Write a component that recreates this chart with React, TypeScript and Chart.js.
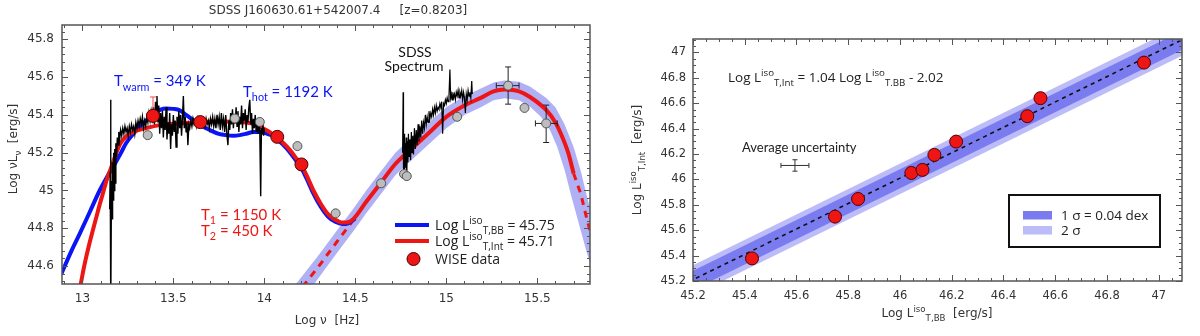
import React, { useEffect, useRef } from 'react';
import { Chart, registerables } from 'chart.js';
Chart.register(...registerables);

// ---------------- Left panel data ----------------
const leftXTicks = [13, 13.5, 14, 14.5, 15, 15.5];
const leftYTicks = [44.6, 44.8, 45, 45.2, 45.4, 45.6, 45.8];

// two-blackbody model (blue)
const blueX = [12.885, 12.94, 12.985, 13.04, 13.095, 13.14, 13.178, 13.21, 13.24, 13.28, 13.315, 13.35, 13.39, 13.43, 13.46, 13.5, 13.535, 13.57, 13.61, 13.65, 13.7, 13.75, 13.79, 13.83, 13.865, 13.9, 13.94, 13.975, 14.01, 14.04, 14.07, 14.1, 14.14, 14.18, 14.2, 14.23, 14.27, 14.31, 14.35, 14.39, 14.43, 14.46, 14.5];
const blueY = [44.56, 44.68, 44.77, 44.885, 45.0, 45.08, 45.14, 45.195, 45.25, 45.3, 45.337, 45.37, 45.405, 45.428, 45.434, 45.432, 45.425, 45.4, 45.372, 45.345, 45.32, 45.3, 45.293, 45.29, 45.293, 45.3, 45.31, 45.31, 45.302, 45.292, 45.272, 45.245, 45.203, 45.15, 45.124, 45.068, 44.984, 44.914, 44.862, 44.834, 44.822, 44.826, 44.852];

// interpolated model (red, solid)
const redX = [12.99, 13.01, 13.03, 13.055, 13.077, 13.095, 13.113, 13.135, 13.16, 13.187, 13.21, 13.245, 13.28, 13.35, 13.425, 13.535, 13.645, 13.755, 13.865, 13.93, 13.975, 14.02, 14.05, 14.07, 14.1, 14.14, 14.18, 14.2, 14.23, 14.27, 14.31, 14.35, 14.39, 14.43, 14.46, 14.49, 14.56, 14.64, 14.72, 14.82, 14.91, 15.0, 15.1, 15.19, 15.26, 15.32, 15.4, 15.46, 15.55, 15.6, 15.63, 15.67, 15.7];
const redY = [44.5, 44.6, 44.685, 44.78, 44.86, 44.925, 44.985, 45.06, 45.126, 45.2, 45.25, 45.29, 45.31, 45.33, 45.346, 45.355, 45.363, 45.365, 45.363, 45.355, 45.337, 45.315, 45.295, 45.28, 45.255, 45.215, 45.165, 45.14, 45.085, 45.0, 44.93, 44.875, 44.845, 44.83, 44.832, 44.85, 44.94, 45.04, 45.14, 45.23, 45.31, 45.39, 45.45, 45.49, 45.525, 45.535, 45.525, 45.495, 45.425, 45.36, 45.3, 45.2, 45.09];

// accretion-disk model, dashed parts
const diskLowX = [14.21, 14.3, 14.4, 14.49];
const diskLowY = [44.49, 44.6, 44.73, 44.845];
const diskHighX = [15.7, 15.74, 15.77, 15.8];
const diskHighY = [45.09, 44.98, 44.86, 44.75];

// uncertainty band of the disk model
const bandOuterX = [14.17, 14.3, 14.4, 14.49, 14.56, 14.64, 14.72, 14.82, 14.91, 15.0, 15.1, 15.19, 15.26, 15.32, 15.4, 15.46, 15.55, 15.6, 15.65, 15.7, 15.74, 15.77, 15.82];
const bandOuterY = [44.5, 44.66, 44.79, 44.905, 45.0, 45.1, 45.2, 45.29, 45.365, 45.44, 45.5, 45.54, 45.572, 45.582, 45.575, 45.55, 45.49, 45.44, 45.35, 45.23, 45.1, 44.98, 44.8];
const bandInnerX = [14.27, 14.4, 14.49, 14.56, 14.64, 14.72, 14.82, 14.91, 15.0, 15.1, 15.19, 15.26, 15.32, 15.4, 15.46, 15.52, 15.57, 15.61, 15.65, 15.69, 15.73, 15.77, 15.82];
const bandInnerY = [44.5, 44.67, 44.785, 44.88, 44.98, 45.08, 45.17, 45.25, 45.33, 45.4, 45.44, 45.478, 45.488, 45.478, 45.445, 45.39, 45.32, 45.23, 45.11, 44.96, 44.82, 44.68, 44.52];

// mid-IR spectrum (x, y)
const irSpectrum: [number, number][] = [
  [13.15, 44.9], [13.153, 45.1], [13.155, 45.48], [13.157, 44.4], [13.16, 45.05], [13.163, 44.85], [13.166, 45.15], [13.169, 44.95], [13.172, 45.2], [13.175, 45.0], [13.178, 45.22], [13.181, 45.04], [13.184, 45.25], [13.188, 45.18], [13.192, 45.28], [13.196, 45.24], [13.2, 45.31], [13.205, 45.27], [13.21, 45.32], [13.216, 45.29], [13.222, 45.33], [13.228, 45.3], [13.234, 45.34], [13.24, 45.31], [13.246, 45.33], [13.252, 45.29], [13.258, 45.34], [13.264, 45.31], [13.27, 45.35], [13.276, 45.32], [13.282, 45.34], [13.288, 45.3], [13.294, 45.36], [13.3, 45.33], [13.306, 45.37], [13.312, 45.34], [13.318, 45.38], [13.324, 45.35], [13.33, 45.39], [13.336, 45.33], [13.342, 45.37], [13.348, 45.34], [13.354, 45.39], [13.36, 45.36], [13.366, 45.41], [13.372, 45.37], [13.378, 45.42], [13.384, 45.38], [13.39, 45.44], [13.396, 45.35], [13.402, 45.47], [13.406, 45.39], [13.41, 45.5], [13.415, 45.36], [13.42, 45.45], [13.425, 45.3], [13.43, 45.41], [13.435, 45.33], [13.44, 45.42], [13.445, 45.28], [13.45, 45.39], [13.455, 45.32], [13.46, 45.44], [13.465, 45.27], [13.47, 45.36], [13.475, 45.3], [13.48, 45.41], [13.485, 45.22], [13.49, 45.35], [13.495, 45.29], [13.5, 45.4], [13.505, 45.31], [13.51, 45.37], [13.515, 45.23], [13.52, 45.39], [13.525, 45.3], [13.53, 45.42], [13.535, 45.33], [13.54, 45.4], [13.545, 45.29], [13.55, 45.38], [13.555, 45.5], [13.56, 45.33], [13.565, 45.39], [13.57, 45.31], [13.575, 45.36], [13.58, 45.24], [13.585, 45.35], [13.59, 45.33], [13.596, 45.37], [13.602, 45.34], [13.608, 45.38], [13.614, 45.35], [13.62, 45.37], [13.626, 45.34], [13.632, 45.38], [13.638, 45.35], [13.644, 45.37], [13.65, 45.36], [13.656, 45.38], [13.662, 45.35], [13.668, 45.37], [13.674, 45.34], [13.68, 45.38], [13.686, 45.35], [13.692, 45.37], [13.698, 45.33], [13.704, 45.38], [13.71, 45.35], [13.716, 45.39], [13.722, 45.34], [13.728, 45.38], [13.734, 45.33], [13.74, 45.4], [13.746, 45.35], [13.752, 45.39], [13.758, 45.32], [13.764, 45.41], [13.77, 45.34], [13.776, 45.38], [13.782, 45.31], [13.788, 45.4], [13.794, 45.3], [13.8, 45.24], [13.805, 45.37], [13.81, 45.32], [13.815, 45.41], [13.82, 45.35], [13.825, 45.43], [13.83, 45.33], [13.835, 45.4], [13.84, 45.36], [13.845, 45.44], [13.85, 45.34], [13.855, 45.42], [13.86, 45.31], [13.865, 45.39], [13.87, 45.35], [13.875, 45.45], [13.88, 45.33], [13.885, 45.41], [13.89, 45.37], [13.895, 45.43], [13.9, 45.32], [13.905, 45.4], [13.91, 45.36], [13.915, 45.44], [13.92, 45.48], [13.925, 45.35], [13.93, 45.41], [13.935, 45.3], [13.94, 45.38], [13.945, 45.33], [13.95, 45.4], [13.955, 45.31], [13.96, 45.37], [13.965, 45.3], [13.97, 45.36], [13.975, 45.32], [13.98, 44.97], [13.984, 45.33], [13.988, 45.3], [13.992, 45.36], [13.996, 45.29], [14.0, 45.33]
];

// SDSS optical spectrum (x, y)
const sdssSpectrum: [number, number][] = [
  [14.76, 45.2], [14.763, 45.52], [14.765, 45.1], [14.768, 45.3], [14.771, 45.08], [14.774, 45.25], [14.777, 45.12], [14.78, 45.28], [14.783, 45.07], [14.786, 45.26], [14.789, 45.15], [14.792, 45.3], [14.796, 45.18], [14.8, 45.27], [14.804, 45.16], [14.808, 45.31], [14.812, 45.2], [14.816, 45.29], [14.82, 45.19], [14.825, 45.33], [14.83, 45.22], [14.835, 45.32], [14.84, 45.24], [14.845, 45.35], [14.85, 45.26], [14.855, 45.34], [14.86, 45.28], [14.865, 45.37], [14.87, 45.3], [14.875, 45.36], [14.88, 45.33], [14.885, 45.4], [14.89, 45.35], [14.895, 45.39], [14.9, 45.36], [14.905, 45.42], [14.91, 45.38], [14.915, 45.41], [14.92, 45.39], [14.925, 45.43], [14.93, 45.4], [14.935, 45.44], [14.94, 45.41], [14.945, 45.45], [14.95, 45.42], [14.955, 45.44], [14.96, 45.43], [14.965, 45.46], [14.97, 45.44], [14.975, 45.47], [14.98, 45.3], [14.985, 45.46], [14.99, 45.45], [14.995, 45.48], [15.0, 45.46], [15.005, 45.49], [15.01, 45.47], [15.015, 45.5], [15.02, 45.64], [15.024, 45.49], [15.028, 45.51], [15.032, 45.48], [15.036, 45.52], [15.04, 45.49], [15.045, 45.51], [15.05, 45.48], [15.055, 45.52], [15.06, 45.5], [15.065, 45.53], [15.07, 45.49], [15.075, 45.52], [15.08, 45.5], [15.085, 45.53], [15.09, 45.48], [15.095, 45.52], [15.1, 45.49], [15.105, 45.41], [15.11, 45.51], [15.115, 45.48], [15.12, 45.53], [15.125, 45.5], [15.13, 45.52], [15.135, 45.49], [15.14, 45.58], [15.143, 45.51]
];

// photometry (grey) and WISE (red)
const grayX = [13.359, 13.838, 13.975, 14.182, 14.392, 14.642, 14.768, 14.783, 15.06, 15.34, 15.43, 15.549];
const grayY = [45.293, 45.381, 45.363, 45.235, 44.879, 45.038, 45.087, 45.076, 45.39, 45.555, 45.437, 45.355];
const errPtX = [15.34, 15.549];
const errPtY = [45.555, 45.355];
const errXLo = [15.275, 15.49];
const errXHi = [15.4, 15.61];
const errYLo = [45.457, 45.254];
const errYHi = [45.654, 45.452];
const wiseX = [13.388, 13.648, 14.071, 14.204];
const wiseY = [45.395, 45.362, 45.284, 45.138];
const wiseErrHi = [45.495, null, null, null];

// ---------------- Right panel data ----------------
const rightTicks = [45.2, 45.4, 45.6, 45.8, 46, 46.2, 46.4, 46.6, 46.8, 47];
const ptBB = [45.428, 45.749, 45.838, 46.044, 46.087, 46.133, 46.217, 46.492, 46.543, 46.943];
const ptInt = [45.378, 45.707, 45.846, 46.051, 46.075, 46.193, 46.298, 46.498, 46.64, 46.92];
const fitX = [45.1, 47.2];
const fitY = [45.11, 47.21];
const sig2Lo = [44.985, 47.085];
const sig2Hi = [45.225, 47.325];
const sig1Lo = [45.03, 47.13];
const sig1Hi = [45.18, 47.28];
const avgUncX = 45.594;
const avgUncY = 46.11;
const avgUncDX = 0.054;
const avgUncDY = 0.045;

// ---------------- helpers ----------------
const RED = '#ee1515';
const BLUE = '#0a14f5';
const TXT = '#333333';
type Part = [string, number];

const pts = (xs: number[], ys: number[]) => xs.map((x, i) => ({ x, y: ys[i] }));

function fontFor(size: number, mode: number, family: string) {
  const s = mode === 0 ? size : size * 0.72;
  return `${s}px "${family}"`;
}
function drawRich(ctx: CanvasRenderingContext2D, parts: Part[], x: number, y: number, size: number, family: string, color: string, align = 'left', angle = 0) {
  ctx.save();
  ctx.translate(x, y);
  if (angle) ctx.rotate(angle);
  let w = 0;
  for (const [t, m] of parts) { ctx.font = fontFor(size, m, family); w += ctx.measureText(t).width; }
  let cx = align === 'center' ? -w / 2 : align === 'right' ? -w : 0;
  ctx.fillStyle = color;
  ctx.textAlign = 'left';
  ctx.textBaseline = 'alphabetic';
  for (const [t, m] of parts) {
    ctx.font = fontFor(size, m, family);
    const dy = m === 1 ? -size * 0.42 : m === -1 ? size * 0.3 : 0;
    ctx.fillText(t, cx, dy);
    cx += ctx.measureText(t).width;
  }
  ctx.restore();
}

function frameTicks(id: string, xMinor: number, xEvery: number, yMinor: number, yEvery: number) {
  return {
    id,
    afterDatasetsDraw(chart: any) {
      const { ctx, chartArea: a, scales } = chart;
      const x = scales.x, y = scales.y;
      ctx.save();
      ctx.strokeStyle = '#555';
      ctx.lineWidth = 1;
      ctx.beginPath();
      const i0 = Math.ceil(x.min / xMinor - 1e-6), i1 = Math.floor(x.max / xMinor + 1e-6);
      for (let i = i0; i <= i1; i++) {
        const px = Math.round(x.getPixelForValue(i * xMinor)) + 0.5;
        const L = i % xEvery === 0 ? 6 : 3;
        ctx.moveTo(px, a.bottom); ctx.lineTo(px, a.bottom - L);
        ctx.moveTo(px, a.top); ctx.lineTo(px, a.top + L);
      }
      const j0 = Math.ceil(y.min / yMinor - 1e-6), j1 = Math.floor(y.max / yMinor + 1e-6);
      for (let j = j0; j <= j1; j++) {
        const py = Math.round(y.getPixelForValue(j * yMinor)) + 0.5;
        const L = j % yEvery === 0 ? 6 : 3;
        ctx.moveTo(a.left, py); ctx.lineTo(a.left + L, py);
        ctx.moveTo(a.right, py); ctx.lineTo(a.right - L, py);
      }
      ctx.stroke();
      ctx.lineWidth = 1.5;
      ctx.strokeStyle = '#555';
      ctx.strokeRect(a.left, a.top, a.right - a.left, a.bottom - a.top);
      ctx.restore();
    },
  };
}

const tickFont = (size: number) => ({ family: 'DejaVu Sans', size });

function leftConfig(): any {
  const bandPlugin = {
    id: 'band',
    beforeDatasetsDraw(chart: any) {
      const { ctx, chartArea: a, scales: { x, y } } = chart;
      ctx.save();
      ctx.beginPath();
      ctx.rect(a.left, a.top, a.right - a.left, a.bottom - a.top);
      ctx.clip();
      ctx.beginPath();
      bandOuterX.forEach((vx, i) => {
        const px = x.getPixelForValue(vx), py = y.getPixelForValue(bandOuterY[i]);
        if (i === 0) ctx.moveTo(px, py); else ctx.lineTo(px, py);
      });
      for (let i = bandInnerX.length - 1; i >= 0; i--) {
        ctx.lineTo(x.getPixelForValue(bandInnerX[i]), y.getPixelForValue(bandInnerY[i]));
      }
      ctx.closePath();
      ctx.fillStyle = '#b0b0f4';
      ctx.fill();
      ctx.restore();
    },
  };
  const errPlugin = {
    id: 'err',
    beforeDatasetDraw(chart: any, args: any) {
      const ds = chart.data.datasets[args.index];
      const { ctx, scales: { x, y } } = chart;
      if (ds.label === 'gray') {
        ctx.save();
        ctx.strokeStyle = '#222';
        ctx.lineWidth = 1;
        ctx.beginPath();
        errPtX.forEach((vx, i) => {
          const px = x.getPixelForValue(vx), py = y.getPixelForValue(errPtY[i]);
          const x0 = x.getPixelForValue(errXLo[i]), x1 = x.getPixelForValue(errXHi[i]);
          const y0 = y.getPixelForValue(errYLo[i]), y1 = y.getPixelForValue(errYHi[i]);
          ctx.moveTo(x0, py); ctx.lineTo(x1, py);
          ctx.moveTo(x0, py - 3); ctx.lineTo(x0, py + 3);
          ctx.moveTo(x1, py - 3); ctx.lineTo(x1, py + 3);
          ctx.moveTo(px, y0); ctx.lineTo(px, y1);
          ctx.moveTo(px - 3, y0); ctx.lineTo(px + 3, y0);
          ctx.moveTo(px - 3, y1); ctx.lineTo(px + 3, y1);
        });
        ctx.stroke();
        ctx.restore();
      }
      if (ds.label === 'wise') {
        ctx.save();
        ctx.strokeStyle = '#f05050';
        ctx.lineWidth = 1;
        ctx.beginPath();
        wiseX.forEach((vx, i) => {
          const hi = wiseErrHi[i];
          if (hi == null) return;
          const px = x.getPixelForValue(vx), py = y.getPixelForValue(wiseY[i]), pt = y.getPixelForValue(hi);
          ctx.moveTo(px, py); ctx.lineTo(px, pt);
          ctx.moveTo(px - 3, pt); ctx.lineTo(px + 3, pt);
        });
        ctx.stroke();
        ctx.restore();
      }
    },
  };
  const textPlugin = {
    id: 'texts',
    afterDraw(chart: any) {
      const { ctx } = chart;
      drawRich(ctx, [['SDSS J160630.61+542007.4     [z=0.8203]', 0]], 338, 14, 12, 'DejaVu Sans', TXT, 'center');
      drawRich(ctx, [['Log \u03bd  [Hz]', 0]], 327, 324, 12, 'DejaVu Sans', TXT, 'center');
      drawRich(ctx, [['Log \u03bdL', 0], ['\u03bd', -1], ['  [erg/s]', 0]], 17, 149, 12, 'DejaVu Sans', TXT, 'center', -Math.PI / 2);
      drawRich(ctx, [['T', 0], ['warm', -1], [' = 349 K', 0]], 114, 86, 15, 'Lato', BLUE);
      drawRich(ctx, [['T', 0], ['hot', -1], [' = 1192 K', 0]], 243, 96.5, 15, 'Lato', BLUE);
      drawRich(ctx, [['T', 0], ['1', -1], [' = 1150 K', 0]], 201, 219.5, 15, 'Lato', RED);
      drawRich(ctx, [['T', 0], ['2', -1], [' = 450 K', 0]], 201, 235.5, 15, 'Lato', RED);
      drawRich(ctx, [['SDSS', 0]], 415, 57, 14, 'Lato', '#111', 'center');
      drawRich(ctx, [['Spectrum', 0]], 414, 71, 14, 'Lato', '#111', 'center');
      // legend
      ctx.save();
      ctx.lineWidth = 4;
      ctx.strokeStyle = BLUE;
      ctx.beginPath(); ctx.moveTo(395, 225); ctx.lineTo(429, 225); ctx.stroke();
      ctx.strokeStyle = RED;
      ctx.beginPath(); ctx.moveTo(395, 241); ctx.lineTo(429, 241); ctx.stroke();
      ctx.beginPath(); ctx.arc(413.5, 259, 6.5, 0, Math.PI * 2);
      ctx.fillStyle = RED; ctx.fill();
      ctx.lineWidth = 1; ctx.strokeStyle = '#400'; ctx.stroke();
      ctx.restore();
      drawRich(ctx, [['Log L', 0], ['iso', 1], ['T,BB', -1], [' = 45.75', 0]], 435, 230, 14, 'Open Sans', '#222');
      drawRich(ctx, [['Log L', 0], ['iso', 1], ['T,Int', -1], [' = 45.71', 0]], 435, 246, 14, 'Open Sans', '#222');
      drawRich(ctx, [['WISE data', 0]], 435, 264, 14, 'Open Sans', '#222');
    },
  };
  return {
    type: 'scatter',
    data: {
      datasets: [
        { label: 'diskLow', data: pts(diskLowX, diskLowY), showLine: true, borderColor: RED, borderWidth: 3, borderDash: [7, 6], pointRadius: 0, order: 10, clip: 0 },
        { label: 'diskHigh', data: pts(diskHighX, diskHighY), showLine: true, borderColor: RED, borderWidth: 3, borderDash: [7, 6], pointRadius: 0, order: 10, clip: 0 },
        { label: 'blue', data: pts(blueX, blueY), showLine: true, borderColor: BLUE, borderWidth: 4, pointRadius: 0, cubicInterpolationMode: 'monotone', order: 9, clip: 0 },
        { label: 'red', data: pts(redX, redY), showLine: true, borderColor: RED, borderWidth: 4, pointRadius: 0, cubicInterpolationMode: 'monotone', order: 8, clip: 0 },
        { label: 'ir', data: irSpectrum.map(([x, y]) => ({ x, y })), showLine: true, borderColor: '#000', borderWidth: 1.4, pointRadius: 0, order: 7, clip: 0 },
        { label: 'sdss', data: sdssSpectrum.map(([x, y]) => ({ x, y })), showLine: true, borderColor: '#000', borderWidth: 1.2, pointRadius: 0, order: 7, clip: 0 },
        { label: 'gray', data: pts(grayX, grayY), showLine: false, pointRadius: 4.5, backgroundColor: '#bdbdbd', borderColor: '#555', borderWidth: 1, order: 5 },
        { label: 'wise', data: pts(wiseX, wiseY), showLine: false, pointRadius: 6.5, backgroundColor: RED, borderColor: '#500', borderWidth: 1, order: 3 },
      ],
    },
    options: {
      animation: false,
      responsive: false,
      devicePixelRatio: 1,
      layout: { padding: { left: 0, right: 10, top: 25, bottom: 0 } },
      plugins: { legend: { display: false }, tooltip: { enabled: false } },
      scales: {
        x: {
          type: 'linear', min: 12.888, max: 15.79,
          afterFit: (s: any) => { s.height = 52; },
          afterBuildTicks: (s: any) => { s.ticks = leftXTicks.map((v) => ({ value: v })); },
          grid: { display: false, drawTicks: false }, border: { display: false },
          ticks: { font: tickFont(12), color: TXT, padding: 8, autoSkip: false, maxRotation: 0, callback: (v: any) => String(v) },
        },
        y: {
          type: 'linear', min: 44.505, max: 45.876,
          afterFit: (s: any) => { s.width = 62; },
          afterBuildTicks: (s: any) => { s.ticks = leftYTicks.map((v) => ({ value: v })); },
          grid: { display: false, drawTicks: false }, border: { display: false },
          ticks: { font: tickFont(12), color: TXT, padding: 8, autoSkip: false, callback: (v: any) => String(v) },
        },
      },
    },
    plugins: [bandPlugin, errPlugin, frameTicks('frameL', 0.1, 5, 0.04, 5), textPlugin],
  };
}

function rightConfig(): any {
  const extra = {
    id: 'extraR',
    afterDraw(chart: any) {
      const { ctx, scales: { x, y } } = chart;
      // average uncertainty bar
      ctx.save();
      ctx.strokeStyle = '#333';
      ctx.lineWidth = 1;
      const px = x.getPixelForValue(avgUncX), py = y.getPixelForValue(avgUncY);
      const x0 = x.getPixelForValue(avgUncX - avgUncDX), x1 = x.getPixelForValue(avgUncX + avgUncDX);
      const y0 = y.getPixelForValue(avgUncY - avgUncDY), y1 = y.getPixelForValue(avgUncY + avgUncDY);
      ctx.beginPath();
      ctx.moveTo(x0, py); ctx.lineTo(x1, py);
      ctx.moveTo(x0, py - 2.5); ctx.lineTo(x0, py + 2.5);
      ctx.moveTo(x1, py - 2.5); ctx.lineTo(x1, py + 2.5);
      ctx.moveTo(px, y0); ctx.lineTo(px, y1);
      ctx.moveTo(px - 2.5, y0); ctx.lineTo(px + 2.5, y0);
      ctx.moveTo(px - 2.5, y1); ctx.lineTo(px + 2.5, y1);
      ctx.stroke();
      // legend box
      ctx.fillStyle = '#fff';
      ctx.fillRect(409, 195, 151, 52);
      ctx.lineWidth = 2;
      ctx.strokeStyle = '#111';
      ctx.strokeRect(409, 195, 151, 52);
      ctx.fillStyle = '#7b7bf0';
      ctx.fillRect(423, 211, 29, 8.5);
      ctx.fillStyle = '#bcbcf8';
      ctx.fillRect(423, 226, 29, 8.5);
      ctx.restore();
      drawRich(ctx, [['1 \u03c3 = 0.04 dex', 0]], 461, 220, 13.5, 'Open Sans', '#222');
      drawRich(ctx, [['2 \u03c3', 0]], 461, 235, 13.5, 'Open Sans', '#222');
      drawRich(ctx, [['Log L', 0], ['iso', 1], ['T,Int', -1], [' = 1.04 Log L', 0], ['iso', 1], ['T.BB', -1], [' - 2.02', 0]], 128, 82, 13.5, 'Open Sans', '#222');
      drawRich(ctx, [['Average uncertainty', 0]], 142, 152, 13, 'Lato', '#222');
      drawRich(ctx, [['Log L', 0], ['iso', 1], ['T,BB', -1], ['  [erg/s]', 0]], 337, 317, 12, 'DejaVu Sans', TXT, 'center');
      drawRich(ctx, [['Log L', 0], ['iso', 1], ['T,Int', -1], ['  [erg/s]', 0]], 41, 160, 12, 'DejaVu Sans', TXT, 'center', -Math.PI / 2);
    },
  };
  return {
    type: 'scatter',
    data: {
      datasets: [
        { label: 's2lo', data: pts(fitX, sig2Lo), showLine: true, borderWidth: 0, borderColor: 'rgba(0,0,0,0)', pointRadius: 0, order: 20, clip: 0 },
        { label: 's2hi', data: pts(fitX, sig2Hi), showLine: true, borderWidth: 0, borderColor: 'rgba(0,0,0,0)', backgroundColor: '#bcbcf8', fill: 0, pointRadius: 0, order: 19, clip: 0 },
        { label: 's1lo', data: pts(fitX, sig1Lo), showLine: true, borderWidth: 0, borderColor: 'rgba(0,0,0,0)', pointRadius: 0, order: 18, clip: 0 },
        { label: 's1hi', data: pts(fitX, sig1Hi), showLine: true, borderWidth: 0, borderColor: 'rgba(0,0,0,0)', backgroundColor: '#7b7bf0', fill: 2, pointRadius: 0, order: 17, clip: 0 },
        { label: 'fit', data: pts(fitX, fitY), showLine: true, borderColor: '#111', borderWidth: 1.6, borderDash: [4, 4], pointRadius: 0, order: 10, clip: 0 },
        { label: 'pts', data: pts(ptBB, ptInt), showLine: false, pointRadius: 6.5, backgroundColor: RED, borderColor: '#500', borderWidth: 1, order: 1 },
      ],
    },
    options: {
      animation: false,
      responsive: false,
      devicePixelRatio: 1,
      layout: { padding: { left: 0, right: 18, top: 39, bottom: 0 } },
      plugins: { legend: { display: false }, tooltip: { enabled: false } },
      scales: {
        x: {
          type: 'linear', min: 45.2, max: 47.09,
          afterFit: (s: any) => { s.height = 55; },
          afterBuildTicks: (s: any) => { s.ticks = rightTicks.map((v) => ({ value: v })); },
          grid: { display: false, drawTicks: false }, border: { display: false },
          ticks: { font: tickFont(11.5), color: TXT, padding: 8, autoSkip: false, maxRotation: 0, callback: (v: any) => String(v) },
        },
        y: {
          type: 'linear', min: 45.2, max: 47.106,
          afterFit: (s: any) => { s.width = 93; },
          afterBuildTicks: (s: any) => { s.ticks = rightTicks.map((v) => ({ value: v })); },
          grid: { display: false, drawTicks: false }, border: { display: false },
          ticks: { font: tickFont(11.5), color: TXT, padding: 7, autoSkip: false, callback: (v: any) => String(v) },
        },
      },
    },
    plugins: [frameTicks('frameR', 0.05, 4, 0.05, 4), extra],
  };
}

export default function App() {
  const leftRef = useRef<HTMLCanvasElement>(null);
  const rightRef = useRef<HTMLCanvasElement>(null);
  useEffect(() => {
    const c1 = new Chart(leftRef.current as HTMLCanvasElement, leftConfig());
    const c2 = new Chart(rightRef.current as HTMLCanvasElement, rightConfig());
    return () => { c1.destroy(); c2.destroy(); };
  }, []);
  return (
    <div style={{ position: 'fixed', left: 0, top: 0, width: 1200, height: 336, background: '#fff', display: 'flex' }}>
      <canvas ref={leftRef} width={600} height={336} style={{ width: 600, height: 336, display: 'block' }} />
      <canvas ref={rightRef} width={600} height={336} style={{ width: 600, height: 336, display: 'block' }} />
    </div>
  );
}
